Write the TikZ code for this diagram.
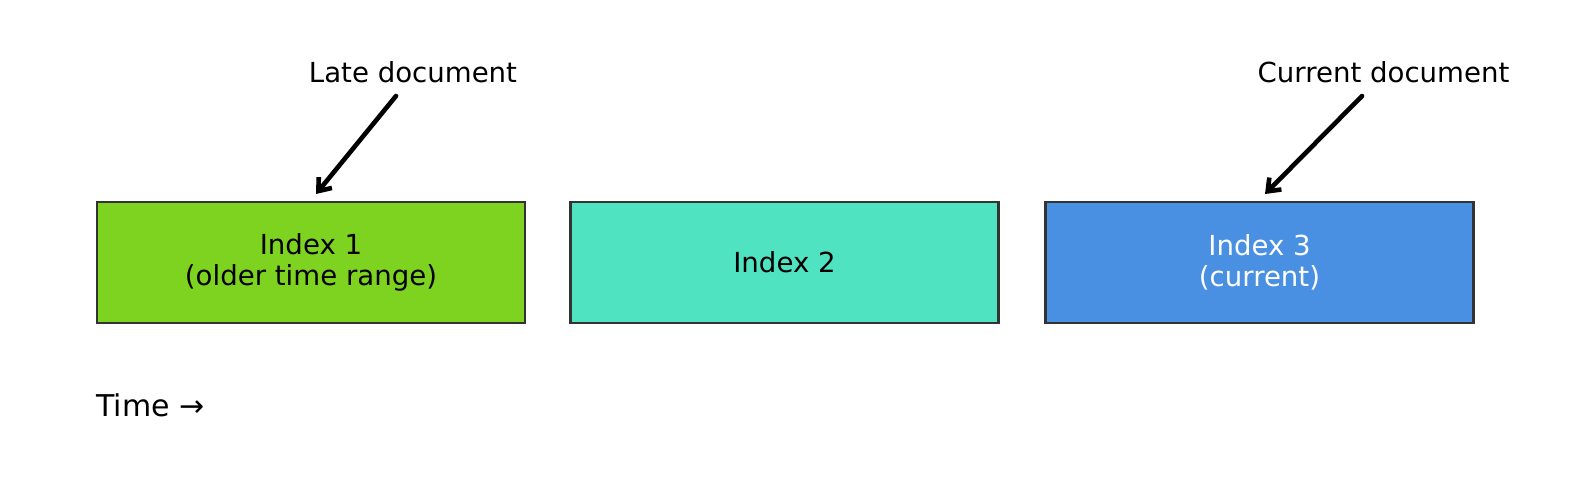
\documentclass[tikz,border=0pt]{standalone}
\usepackage{fontspec}
\setmainfont{DejaVu Sans}
\usetikzlibrary{arrows.meta}
\definecolor{gbox}{HTML}{7ED321}
\definecolor{tbox}{HTML}{50E3C2}
\definecolor{bbox}{HTML}{4A90E2}
\definecolor{edge}{HTML}{333333}
\begin{document}
\begin{tikzpicture}[x=0.5pt,y=-0.5pt,
  idxbox/.style={draw=edge,line width=1.25pt,minimum width=214pt,minimum height=60.5pt,inner sep=0pt,align=center,font=\fontsize{13.8}{15.5}\selectfont},
  lbl/.style={inner sep=0pt,font=\fontsize{13.8}{16}\selectfont},
  pointer/.style={line width=2.3pt,line cap=round,-{Straight Barb[length=5.5pt,width=8.5pt,line width=2.3pt]}}]
\useasboundingbox (0,0) rectangle (1589,502);
\node[idxbox,fill=gbox] (b1) at (311,262.5) {Index 1\\(older time range)};
\node[idxbox,fill=tbox] (b2) at (784.5,262.5) {Index 2};
\node[idxbox,fill=bbox,text=white] (b3) at (1259.5,262.5) {Index 3\\(current)};
\node[lbl] (l1) at (413,72) {Late document};
\node[lbl] (l3) at (1383.5,72) {Current document};
\node[lbl,anchor=west,font=\fontsize{15}{18}\selectfont] (time) at (96,405) {Time →};
\coordinate (s1) at (396,96);
\coordinate (e1) at (316,194);
\coordinate (s3) at (1362,96);
\coordinate (e3) at (1265,194);
\draw[pointer] (s1) -- (e1);
\draw[pointer] (s3) -- (e3);
\end{tikzpicture}
\end{document}
